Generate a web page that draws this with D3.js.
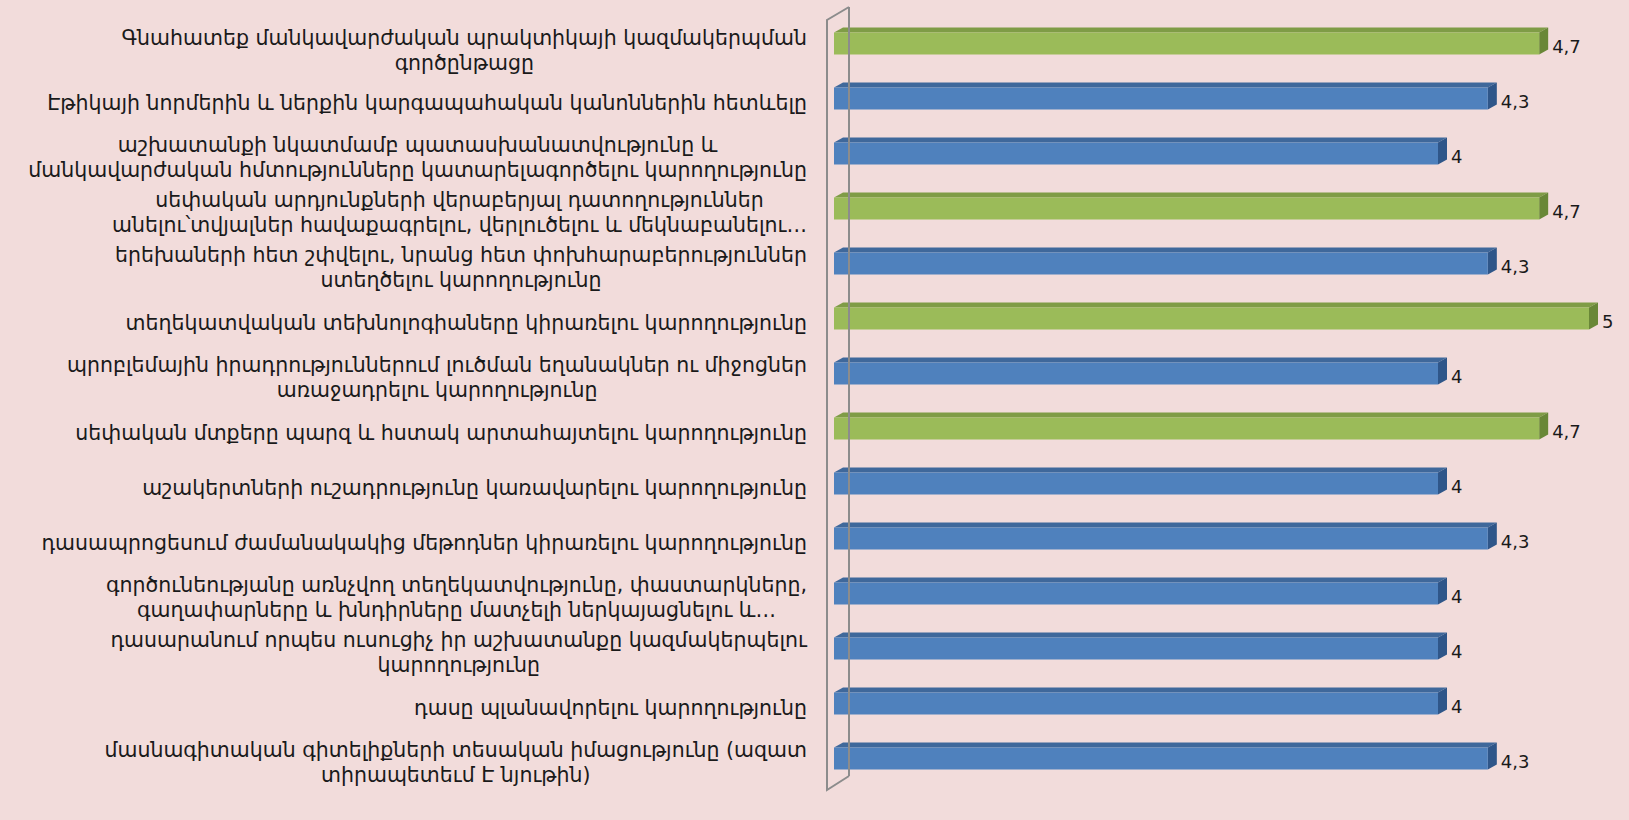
<!DOCTYPE html>
<html>
<head>
<meta charset="utf-8">
<script src="https://cdn.jsdelivr.net/npm/d3@7"></script>
<style>
  html, body { margin: 0; padding: 0; background: #f2dcdb; }
  svg { display: block; }
  text { font-family: "DejaVu Sans", Verdana, sans-serif; fill: #1a1a1a; }
</style>
</head>
<body>
<script>
// Category labels, already wrapped the way the original chart shows them (top to bottom)
var labels = [
	["Գնահատեք մանկավարժական պրակտիկայի կազմակերպման", "գործընթացը"],
	["Էթիկայի նորմերին և ներքին կարգապահական կանոններին հետևելը"],
	["աշխատանքի նկատմամբ պատասխանատվությունը և", "մանկավարժական հմտությունները կատարելագործելու կարողությունը"],
	["սեփական արդյունքների վերաբերյալ դատողություններ", "անելու՝տվյալներ հավաքագրելու, վերլուծելու և մեկնաբանելու…"],
	["երեխաների հետ շփվելու, նրանց հետ փոխհարաբերություններ", "ստեղծելու կարողությունը"],
	["տեղեկատվական տեխնոլոգիաները կիրառելու կարողությունը"],
	["պրոբլեմային իրադրություններում լուծման եղանակներ ու միջոցներ", "առաջադրելու կարողությունը"],
	["սեփական մտքերը պարզ և հստակ արտահայտելու կարողությունը"],
	["աշակերտների ուշադրությունը կառավարելու կարողությունը"],
	["դասապրոցեսում ժամանակակից մեթոդներ կիրառելու կարողությունը"],
	["գործունեությանը առնչվող տեղեկատվությունը, փաստարկները,", "գաղափարները և  խնդիրները մատչելի ներկայացնելու և…"],
	["դասարանում որպես ուսուցիչ իր աշխատանքը կազմակերպելու", "կարողությունը"],
	["դասը պլանավորելու կարողությունը"],
	["մասնագիտական գիտելիքների տեսական իմացությունը (ազատ", "տիրապետեւմ Է նյութին)"]
]

// average scores
var values = [4.67, 4.33, 4, 4.67, 4.33, 5, 4, 4.67, 4, 4.33, 4, 4, 4, 4.33]

// which bars are drawn green (the rest are blue)
var highlighted = [true, false, false, true, false, true, false, true, false, false, false, false, false, false]

var xDomain = [0, 5]

var width = 1629,
	height = 820

var colors = {
	blue:  {front: "#4f81bd", top: "#3f689b", side: "#2f5689"},
	green: {front: "#9bbb59", top: "#7f9c46", side: "#698737"}
}

// 3d depth offset of the bars
var depth = {dx: 9, dy: 5}

var svg = d3.select("body").append("svg")
	.attr("width", width)
	.attr("height", height)

var x = d3.scaleLinear().domain(xDomain).range([834, 1589])

var y = d3.scaleBand()
	.domain(d3.range(values.length))
	.range([16, 786])
	.paddingInner(0.6)
	.paddingOuter(0.3)

var fmt = d3.formatLocale({decimal: ",", thousands: " ", grouping: [3], currency: ["", ""]}).format(".2~r")

// ****************** Wall ***************************
var wall = svg.append("g").attr("class", "wall")
	.attr("fill", "none")
	.attr("stroke", "#8c8c8c")
	.attr("stroke-width", 2)

// back edge sits behind the bars
wall.append("line")
	.attr("x1", 849).attr("y1", 7)
	.attr("x2", 849).attr("y2", 776)

// ****************** Bars ***************************
var bar = svg.selectAll("g.bar")
	.data(values)
	.enter().append("g")
	.attr("class", "bar")

function col(i) { return highlighted[i] ? colors.green : colors.blue }

bar.append("path")
	.attr("fill", (d, i) => col(i).top)
	.attr("d", function(d, i) {
		var x0 = x(0), x1 = x(d), t = y(i)
		return `M ${x0} ${t} L ${x0 + depth.dx} ${t - depth.dy} L ${x1 + depth.dx} ${t - depth.dy} L ${x1} ${t} Z`
	})

bar.append("path")
	.attr("fill", (d, i) => col(i).side)
	.attr("d", function(d, i) {
		var x1 = x(d), t = y(i), b = y(i) + y.bandwidth()
		return `M ${x1} ${t} L ${x1 + depth.dx} ${t - depth.dy} L ${x1 + depth.dx} ${b - depth.dy} L ${x1} ${b} Z`
	})

bar.append("rect")
	.attr("fill", (d, i) => col(i).front)
	.attr("x", x(0))
	.attr("y", (d, i) => y(i))
	.attr("width", d => x(d) - x(0))
	.attr("height", y.bandwidth())

// value labels
bar.append("text")
	.attr("x", d => x(d) + depth.dx + 4)
	.attr("y", (d, i) => y(i) + y.bandwidth() / 2 + 3)
	.attr("dy", "0.35em")
	.style("font-size", "18px")
	.text(d => fmt(d))

// front edges of the wall
wall.raise()
wall.append("path")
	.attr("d", "M 849 7 L 827 20 L 827 790 L 849 776")

// ****************** Category labels ***************************
var labelRight = 807,
	lineHeight = 25

var lab = svg.selectAll("g.label")
	.data(labels)
	.enter().append("g")
	.attr("class", "label")
	.style("font-size", "20.5px")

lab.each(function(lines, i) {
	var g = d3.select(this)
	var cy = y(i) + y.bandwidth() / 2 + 5 + (i == 0 ? 3 : 0)
	var top = cy - (lines.length - 1) * lineHeight / 2
	var ts = g.selectAll("text")
		.data(lines)
		.enter().append("text")
		.attr("y", (d, j) => top + j * lineHeight)
		.attr("dy", "0.3em")
		.attr("text-anchor", "middle")
		.text(d => d)
	// lines are centred on each other, block is right aligned to the axis
	var w = d3.max(ts.nodes(), n => n.getComputedTextLength())
	ts.attr("x", labelRight - w / 2)
})
</script>
</body>
</html>
